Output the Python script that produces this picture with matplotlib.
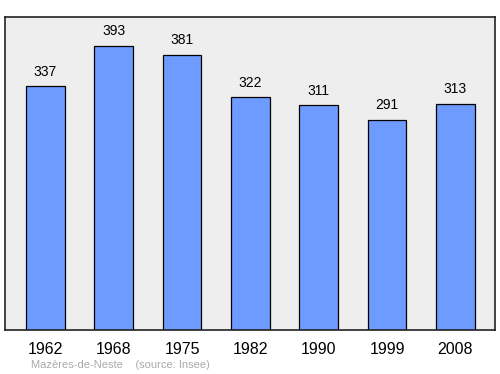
import matplotlib
matplotlib.use("Agg")
from matplotlib import pyplot as plt

years = ["1962", "1968", "1975", "1982", "1990", "1999", "2008"]
population = [337, 393, 381, 322, 311, 291, 313]

plt.rcParams['font.family'] = ['Liberation Sans', 'DejaVu Sans']

fig = plt.figure(figsize=(5, 3.74), dpi=100)
ax = fig.add_axes([0.01, 0.1176, 0.98, 0.837])
ax.set_facecolor('#eeeeee')

x = range(len(years))
bars = ax.bar(x, population, width=0.57, color='#6e9bff', edgecolor='black', linewidth=0.9)

for i, v in enumerate(population):
    ax.annotate(str(v), (i, v), xytext=(0, 5.5), textcoords='offset points',
                ha='center', va='bottom', fontsize=10)

ax.set_xlim(-0.59, 6.58)
ax.set_ylim(0, 433)
ax.set_yticks([])
ax.set_xticks(list(x))
ax.set_xticklabels(years, fontsize=11.5)
ax.tick_params(axis='x', length=0, pad=8.5)
for s in ax.spines.values():
    s.set_linewidth(1.2)
    s.set_color('#222222')

fig.text(0.062, 0.015, "Mazères-de-Neste    (source: Insee)", fontsize=8, color='#aaaaaa')

fig.savefig("out.png", dpi=100)
